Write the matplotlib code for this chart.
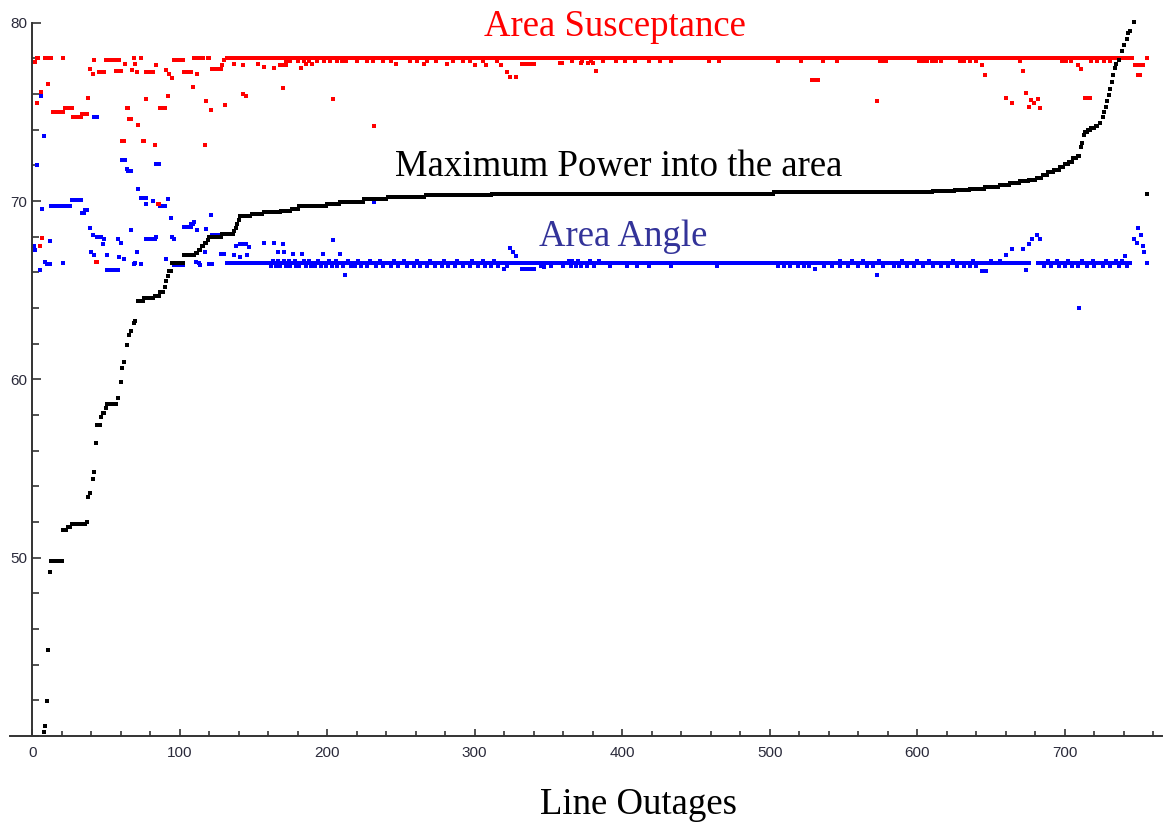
import matplotlib
matplotlib.use('Agg')
import matplotlib.pyplot as plt
from matplotlib.ticker import MultipleLocator

##-Data (runs: first index, last index, value)
black_runs = [
    (8, 8, 40.25), (9, 9, 40.55), (10, 10, 41.95), (11, 11, 44.85), (12, 12, 49.2),
    (13, 20, 49.8), (21, 23, 51.55), (24, 26, 51.7), (27, 36, 51.87), (37, 37, 52.0),
    (38, 38, 53.4), (39, 39, 53.6), (41, 41, 54.4), (42, 42, 54.8), (43, 43, 56.45),
    (44, 46, 57.45), (47, 47, 57.9), (48, 49, 58.1), (50, 50, 58.4), (51, 57, 58.6),
    (58, 58, 58.95), (60, 60, 59.85), (61, 61, 60.65), (62, 62, 61.0), (64, 64, 61.9),
    (66, 66, 62.5), (67, 67, 62.7), (69, 69, 63.15), (70, 70, 63.3),
    (72, 75, 64.4), (76, 82, 64.55), (83, 86, 64.7), (87, 89, 64.9), (90, 90, 65.2),
    (91, 91, 65.5), (92, 92, 65.8), (93, 94, 66.05), (95, 102, 66.5), (103, 110, 66.97),
    (111, 112, 67.1), (113, 114, 67.25), (115, 116, 67.45), (117, 118, 67.63), (119, 119, 67.8),
    (120, 128, 68.0), (129, 136, 68.15), (137, 137, 68.3), (138, 138, 68.47), (139, 139, 68.7),
    (140, 140, 68.95), (141, 148, 69.15), (149, 156, 69.3), (157, 168, 69.4), (169, 175, 69.45),
    (176, 180, 69.55), (181, 199, 69.72), (200, 208, 69.83), (209, 224, 69.96), (225, 240, 70.09),
    (241, 266, 70.2), (267, 311, 70.32), (312, 502, 70.42), (503, 610, 70.5), (611, 625, 70.55),
    (626, 635, 70.6), (636, 645, 70.7), (646, 655, 70.8), (656, 662, 70.9), (663, 669, 71.0),
    (670, 675, 71.1), (676, 680, 71.2), (681, 684, 71.3), (685, 688, 71.45), (689, 692, 71.6),
    (693, 696, 71.75), (697, 699, 71.9), (700, 702, 72.05), (703, 705, 72.2), (706, 708, 72.4),
    (709, 710, 72.55), (711, 711, 73.05), (712, 712, 73.25), (713, 713, 73.7), (714, 715, 73.85),
    (716, 717, 74.0), (718, 720, 74.1), (721, 722, 74.2), (724, 724, 74.35), (726, 726, 74.7),
    (727, 727, 75.0), (728, 728, 75.3), (729, 729, 75.6), (730, 730, 75.95), (731, 731, 76.3),
    (732, 732, 76.7), (733, 733, 77.05), (734, 734, 77.45), (735, 735, 77.7), (737, 737, 77.9),
    (739, 739, 78.4), (740, 740, 78.75), (742, 742, 79.1), (743, 743, 79.45), (744, 744, 79.55),
    (747, 747, 80.05), (756, 756, 70.37),
]

red_runs = [
    (1, 2, 77.8), (3, 4, 78.0), (9, 13, 78.0), (21, 21, 78.0), (132, 746, 78.0), (756, 756, 78.0),
    (3, 3, 75.5), (5, 5, 67.5), (6, 6, 76.1), (7, 7, 67.9), (11, 11, 76.55),
    (14, 21, 75.0), (22, 27, 75.2), (28, 33, 74.7), (34, 37, 74.9),
    (38, 38, 75.8), (39, 39, 77.4), (41, 41, 77.15), (42, 42, 77.9), (43, 44, 66.6),
    (45, 49, 77.25), (50, 56, 77.9), (57, 58, 77.3), (59, 59, 77.9), (60, 60, 77.3),
    (61, 62, 73.35), (63, 63, 77.7), (64, 65, 75.2), (66, 67, 74.6), (68, 68, 77.35),
    (69, 69, 78.0), (70, 70, 77.7), (71, 71, 77.25), (72, 72, 74.25), (74, 74, 78.0),
    (75, 76, 73.35), (77, 77, 75.7), (77, 82, 77.25), (83, 83, 73.15), (84, 84, 77.6),
    (85, 86, 69.85), (87, 90, 75.2), (91, 91, 77.35), (92, 92, 75.9), (93, 93, 77.15),
    (95, 95, 76.9), (96, 102, 77.9), (103, 108, 77.25), (109, 109, 76.4), (110, 111, 78.0),
    (112, 112, 77.15), (113, 116, 78.0), (117, 117, 73.15), (118, 118, 75.6), (119, 120, 78.0),
    (121, 121, 75.1), (122, 128, 77.4), (129, 129, 77.6), (130, 130, 77.9), (131, 131, 75.4),
    (137, 137, 77.7), (143, 143, 77.6), (143, 143, 76.0), (145, 145, 75.9), (153, 153, 77.7),
    (157, 157, 77.5), (164, 164, 77.45), (168, 169, 77.6), (170, 170, 76.35), (171, 172, 77.6),
    (182, 182, 77.45), (186, 186, 77.7), (190, 190, 77.7), (204, 204, 75.7), (232, 232, 74.2),
    (247, 247, 77.7), (266, 266, 77.7), (281, 281, 77.7), (300, 300, 77.6), (308, 308, 77.6),
    (318, 318, 77.6), (322, 322, 77.25), (324, 324, 76.95), (328, 328, 76.95), (332, 340, 77.7),
    (358, 359, 77.75), (372, 372, 77.75), (377, 377, 77.75), (380, 380, 77.75), (382, 382, 77.3),
    (529, 533, 76.8), (573, 573, 75.6), (644, 644, 77.6), (646, 646, 77.05), (660, 660, 75.75),
    (664, 664, 75.5), (672, 672, 77.3), (674, 674, 76.05), (676, 676, 75.25), (677, 677, 75.65),
    (679, 679, 75.5), (682, 682, 75.7), (683, 683, 75.2), (709, 709, 77.6), (711, 711, 77.4),
    (714, 717, 75.8), (748, 749, 77.6), (750, 751, 77.05), (752, 753, 77.6),
]
red_dip = 77.85
red_dip_x = [172, 175, 180, 184, 188, 193, 198, 202, 207, 210, 213, 220, 227, 231, 238, 243,
             256, 261, 268, 274, 285, 292, 297, 306, 315, 366, 373, 379, 387, 396, 402, 409,
             418, 426, 433, 459, 466, 506, 521, 536, 546, 575, 577, 579, 601, 604, 607, 610,
             613, 616, 629, 632, 636, 640, 670, 698, 701, 704, 718, 722, 727, 731]

blue_runs = [
    (1, 1, 67.5), (2, 2, 67.25), (3, 3, 72.0), (5, 5, 66.15), (6, 6, 75.9), (7, 7, 69.55),
    (8, 8, 73.65), (9, 9, 66.6), (10, 12, 66.45), (12, 12, 67.75), (13, 26, 69.74),
    (21, 21, 66.55), (27, 33, 70.06), (34, 35, 69.35), (36, 37, 69.5), (39, 39, 68.5),
    (40, 40, 67.15), (41, 41, 68.1), (42, 42, 66.97), (42, 44, 74.7), (44, 47, 68.0),
    (48, 48, 67.6), (49, 49, 67.85), (51, 51, 66.97), (51, 58, 66.13), (58, 58, 67.85),
    (59, 59, 66.88), (60, 60, 67.65), (61, 63, 72.3), (62, 62, 66.75), (64, 64, 71.8),
    (65, 67, 71.7), (67, 67, 68.35), (69, 69, 66.45), (70, 70, 66.55), (71, 71, 67.15),
    (72, 72, 70.7), (74, 74, 66.45), (74, 77, 70.15), (77, 77, 69.85), (77, 83, 67.85),
    (82, 82, 70.0), (84, 84, 68.0), (84, 86, 72.1), (87, 90, 69.74), (91, 91, 66.75),
    (92, 92, 70.1), (94, 94, 69.05), (95, 95, 68.0), (96, 96, 67.85), (96, 102, 66.4),
    (103, 108, 68.56), (108, 109, 68.7), (110, 110, 68.85), (111, 111, 66.6), (112, 112, 68.37),
    (113, 113, 66.5), (114, 114, 66.4), (117, 117, 67.15), (118, 118, 68.42), (120, 122, 66.45),
    (121, 121, 69.2), (122, 127, 68.1), (128, 128, 67.05), (130, 130, 67.05), (132, 136, 66.5),
    (137, 137, 66.95), (138, 138, 67.5), (141, 141, 66.88), (141, 145, 67.6), (146, 146, 66.95),
    (147, 147, 67.4), (138, 676, 66.5), (682, 744, 66.5), (756, 756, 66.5),
    (157, 157, 67.65), (164, 164, 67.65), (167, 167, 67.15), (170, 170, 67.6), (171, 171, 67.15),
    (177, 177, 67.05), (183, 183, 67.05), (197, 197, 67.05), (204, 204, 67.8), (209, 209, 67.05),
    (212, 212, 65.85), (232, 232, 69.96), (320, 320, 66.2), (324, 324, 67.35), (326, 326, 67.15),
    (328, 328, 66.9), (332, 340, 66.17), (347, 347, 66.32), (531, 531, 66.2), (573, 573, 65.85),
    (644, 644, 66.1), (647, 647, 66.05), (660, 660, 67.0), (664, 664, 67.3), (672, 672, 67.3),
    (674, 674, 66.13), (676, 676, 67.6), (678, 678, 67.85), (681, 681, 68.1), (683, 683, 67.85),
    (710, 710, 64.0), (741, 741, 66.9), (747, 747, 67.85), (749, 749, 67.65), (750, 750, 68.47),
    (752, 752, 68.1), (753, 753, 67.45), (754, 754, 67.15),
]
blue_dip = 66.38
blue_dip_x = [162, 165, 168, 172, 175, 179, 181, 186, 189, 192, 196, 199, 203, 207, 211, 216,
              219, 223, 227, 233, 238, 243, 248, 254, 259, 263, 268, 273, 278, 282, 287, 292,
              297, 302, 307, 311, 316, 322, 345, 352, 360, 365, 369, 372, 376, 381, 392, 403,
              410, 418, 433, 464, 506, 510, 514, 519, 523, 527, 537, 542, 548, 553, 560, 566,
              570, 577, 584, 588, 593, 598, 604, 611, 616, 621, 627, 632, 636, 640, 686, 691,
              696, 700, 705, 709, 715, 720, 726, 731, 737, 742]
blue_bump = 66.62
blue_bump_x = [163, 167, 171, 174, 178, 184, 188, 194, 201, 206, 214, 221, 229, 236, 245, 252,
               261, 270, 279, 288, 298, 306, 313, 364, 366, 370, 378, 384, 548, 556, 563, 574,
               590, 600, 608, 624, 638, 650, 656, 689, 695, 702, 712, 719, 728, 735, 739]

x_ticks = [0, 100, 200, 300, 400, 500, 600, 700]
y_ticks = [50, 60, 70, 80]


##-Functions
def expand(runs, extra_x=(), extra_y=None):
    '''Turn (start, end, value) runs into x / y lists.'''
    xs, ys = [], []
    for x0, x1, y in runs:
        for x in range(x0, x1 + 1):
            xs.append(x)
            ys.append(y)
    for x in extra_x:
        xs.append(x)
        ys.append(extra_y)
    return xs, ys


W, H = 1164, 825
fig = plt.figure(figsize=(W / 100, H / 100), dpi=100)
ax = fig.add_axes([10 / W, 89 / H, 1152 / W, 713.3 / H])

mk = dict(marker='s', ms=2.9, mew=0, ls='none', clip_on=False)

bx, by = expand(blue_runs)
ax.plot(bx, by, color='#0000ff', **mk)
bx, by = expand([], blue_dip_x, blue_dip)
ax.plot(bx, by, color='#0000ff', **mk)
bx, by = expand([], blue_bump_x, blue_bump)
ax.plot(bx, by, color='#0000ff', **mk)

rx, ry = expand(red_runs, red_dip_x, red_dip)
ax.plot(rx, ry, color='#ff0000', **mk)

kx, ky = expand(black_runs)
ax.plot(kx, ky, color='#000000', **mk)

ax.set_xlim(-15, 766)
ax.set_ylim(40, 80)

#---Mathematica-like axes
for s in ('top', 'right'):
    ax.spines[s].set_visible(False)
ax.spines['left'].set_position(('data', 0))
ax.spines['left'].set_bounds(40, 80)
for s in ('left', 'bottom'):
    ax.spines[s].set_linewidth(1.4)
    ax.spines[s].set_color('#333333')

ax.set_xticks(x_ticks)
ax.set_yticks(y_ticks)
ax.xaxis.set_minor_locator(MultipleLocator(20))
ax.yaxis.set_minor_locator(MultipleLocator(2))
ax.tick_params(axis='x', which='major', direction='in', length=5, width=1.2, color='#333333', pad=7)
ax.tick_params(axis='x', which='minor', direction='in', length=3.6, width=1.2, color='#333333')
ax.tick_params(axis='y', which='major', direction='in', length=6.5, width=1.2, color='#333333', pad=3.5)
ax.tick_params(axis='y', which='minor', direction='in', length=5, width=1.2, color='#333333')
for lab in ax.get_xticklabels() + ax.get_yticklabels():
    lab.set_family('Liberation Sans')
    lab.set_fontsize(11)
    lab.set_color('#2a2a3a')

serif = 'Liberation Serif'
fig.text(614.5 / W, 1 - 36 / H, 'Area Susceptance', ha='center', va='baseline',
         fontsize=26.5, family=serif, color='#ff0000')
fig.text(618.5 / W, 1 - 175.7 / H, 'Maximum Power into the area', ha='center', va='baseline',
         fontsize=26.5, family=serif, color='#000000')
fig.text(623 / W, 1 - 245.7 / H, 'Area Angle', ha='center', va='baseline',
         fontsize=26.5, family=serif, color='#333399')
fig.text(638.5 / W, 1 - 814 / H, 'Line Outages', ha='center', va='baseline',
         fontsize=26.5, family=serif, color='#000000')

fig.savefig('out.png', dpi=100)
